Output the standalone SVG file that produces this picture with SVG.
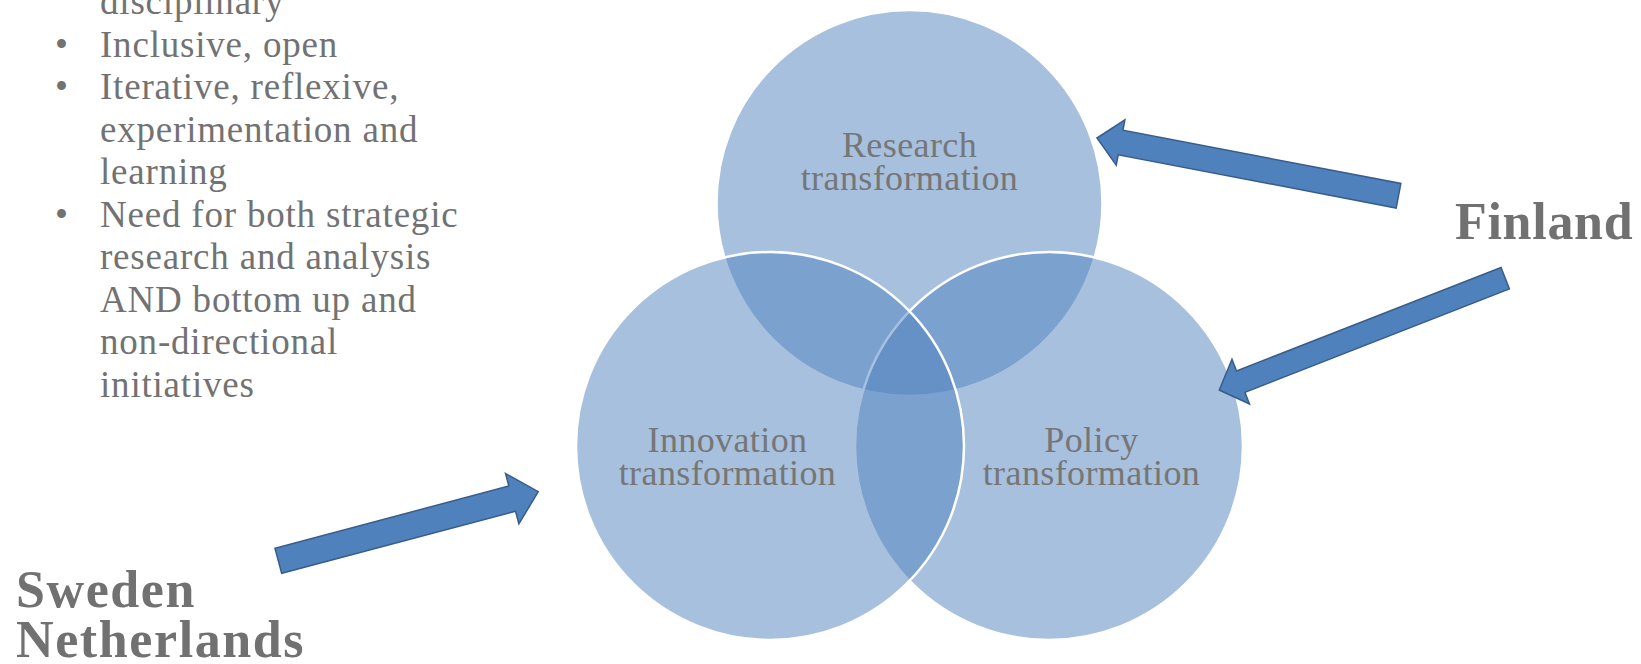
<svg xmlns="http://www.w3.org/2000/svg" width="1641" height="664" viewBox="0 0 1641 664">
<style>
  .bul{font-family:"Liberation Serif","Times New Roman",serif;font-size:37px;fill:#727272;letter-spacing:0.8px}
  .lbl{font-family:"Liberation Serif","Times New Roman",serif;font-size:36px;fill:#767676;letter-spacing:0.4px;text-anchor:middle}
  .big{font-family:"Liberation Serif","Times New Roman",serif;font-size:52px;font-weight:bold;fill:#717171;letter-spacing:1.6px}
  .circ{fill:#4F81BD;fill-opacity:0.5;stroke:#ffffff;stroke-width:2.5}
  .arr{fill:#4F81BD;stroke:#385D8A;stroke-width:1.5;stroke-linejoin:miter}
</style>
<rect width="1641" height="664" fill="#ffffff"/>

<g id="bullets">
  <text class="bul" x="100" y="13.5">disciplinary</text>
  <text class="bul" x="55" y="56.7">•</text>
  <text class="bul" x="100" y="56.7">Inclusive, open</text>
  <text class="bul" x="55" y="99.3">•</text>
  <text class="bul" x="100" y="99.3">Iterative, reflexive,</text>
  <text class="bul" x="100" y="141.7">experimentation and</text>
  <text class="bul" x="100" y="184">learning</text>
  <text class="bul" x="55" y="226.7">•</text>
  <text class="bul" x="100" y="226.7">Need for both strategic</text>
  <text class="bul" x="100" y="269.3">research and analysis</text>
  <text class="bul" x="100" y="312.3">AND bottom up and</text>
  <text class="bul" x="100" y="354.3">non-directional</text>
  <text class="bul" x="100" y="396.7">initiatives</text>
</g>

<g id="research">
  <circle class="circ" cx="909.5" cy="203" r="193"/>
  <text class="lbl"><tspan x="909.5" y="156.7">Research</tspan><tspan x="909.5" y="190">transformation</tspan></text>
</g>
<g id="policy">
  <circle class="circ" cx="1049" cy="446" r="194"/>
  <text class="lbl"><tspan x="1091.5" y="451.7">Policy</tspan><tspan x="1091.5" y="485">transformation</tspan></text>
</g>
<g id="innovation">
  <circle class="circ" cx="770" cy="446" r="194"/>
  <text class="lbl"><tspan x="727.5" y="451.7">Innovation</tspan><tspan x="727.5" y="485">transformation</tspan></text>
</g>

<g id="connectors">
  <polygon class="arr" transform="translate(1097,138) rotate(10.84)" points="0,0 24,-23 24,-12.5 307,-12.5 307,12.5 24,12.5 24,23"/>
  <polygon class="arr" transform="translate(1219.3,390) rotate(-21.36)" points="0,0 23,-24 23,-11.5 307,-11.5 307,11.5 23,11.5 23,24"/>
  <polygon class="arr" transform="translate(538.3,491.7) rotate(165.12)" points="0,0 27,-26 27,-13 269,-13 269,13 27,13 27,26"/>
</g>

<g id="finland">
  <text class="big" x="1455" y="239" style="letter-spacing:0.7px">Finland</text>
</g>
<g id="sweden-netherlands">
  <text class="big"><tspan x="16" y="607">Sweden</tspan><tspan x="16" y="657">Netherlands</tspan></text>
</g>
</svg>
